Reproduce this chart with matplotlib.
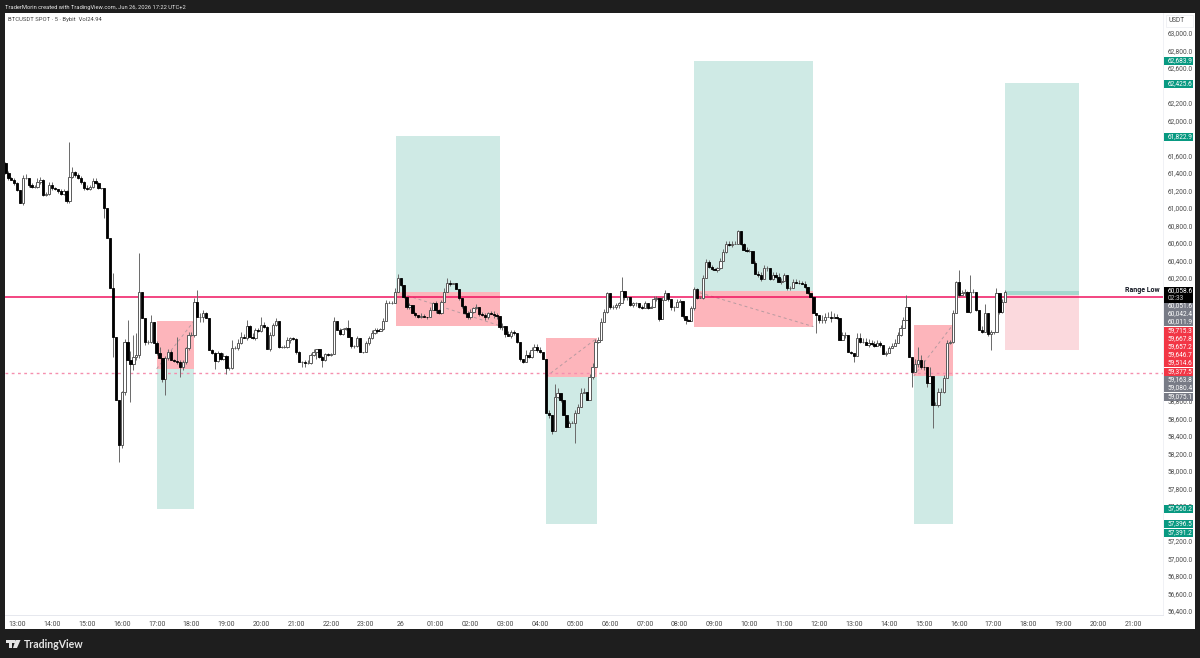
import matplotlib
matplotlib.use("Agg")
import matplotlib.pyplot as plt
from matplotlib.patches import Rectangle, Polygon
import numpy as np

plt.rcParams['font.family'] = ['Roboto', 'DejaVu Sans']

first_open = 61509

closes = [
    61396,61338,61326,61281,61205,61060,61338,61338,61262,61236,61243,61300,
    61319,61148,61159,61262,61224,61213,61197,61159,61193,61083,61357,61414,
    61376,61338,61300,61232,61213,61243,61308,61281,61224,61224,60996,60653,
    60083,59531,58808,58294,58903,59474,59264,59215,59302,59321,60044,59740,
    59474,59474,59702,59455,59341,59283,59044,59283,59359,59264,59257,59245,
    59188,59245,59398,59550,59550,59930,59759,59759,59797,59740,59379,59341,
    59257,59341,59272,59310,59169,59169,59398,59398,59455,59531,59512,59652,
    59531,59512,59607,59599,59664,59645,59386,59550,59664,59710,59417,59417,
    59417,59493,59512,59501,59359,59240,59245,59226,59234,59322,59360,59386,59303,
    59264,59329,59322,59329,59713,59607,59561,59615,59626,59531,59424,59424,
    59512,59360,59360,59455,59512,59576,59607,59599,59615,59710,59911,59911,
    59911,60045,60197,60121,59987,59873,59892,59797,59778,59752,59767,59759,
    59752,59835,59911,59835,59805,59930,60045,60147,60132,60140,60071,59976,
    59881,59805,59759,59816,59854,59873,59790,59778,59752,59797,59790,59778,
    59767,59637,59653,59561,59538,59588,59576,59474,59272,59245,59322,59303,
    59379,59409,59379,59360,59272,58663,58637,58458,58846,58884,58808,58637,
    58504,58542,58542,58656,58732,58884,58903,58808,59074,59188,59474,59493,
    59702,59816,60026,59873,59873,59893,59912,60056,59980,59980,59893,59912,
    59912,59874,59855,59912,59855,59866,59957,59969,59729,59950,60026,59957,
    59866,59866,59931,59942,59767,59721,59714,59855,60072,59969,59969,60197,
    60387,60330,60300,60292,60311,60399,60502,60589,60578,60589,60589,60741,
    60589,60521,60513,60513,60368,60247,60235,60186,60311,60311,60186,60235,
    60216,60159,60170,60235,60083,60083,60159,60148,60140,60132,60102,60026,
    59980,59798,59779,59721,59721,59760,59760,59740,59760,59740,59493,59550,
    59550,59360,59341,59311,59512,59474,59474,59436,59463,59448,59425,59455,
    59436,59333,59341,59398,59425,59463,59550,59626,59721,59866,59303,59131,
    59219,59264,59188,59181,58998,59082,58751,58751,58903,58903,59055,59455,
    59474,59797,60159,60006,60026,60037,59816,60045,60045,59835,59607,59588,
    59797,59561,59588,59588,60026,59816,59930,60045,
]

# wick length above the body
wick_up = [
    20,30,20,15,20,0,40,50,10,20,15,40,
    30,10,20,30,30,15,10,20,20,10,400,60,
    10,20,30,10,30,20,30,30,20,10,0,0,
    0,170,0,0,10,30,247,100,250,250,440,0,
    0,15,76,0,30,70,10,30,30,20,10,274,
    20,20,20,30,30,40,134,40,40,15,0,10,
    20,30,20,40,10,20,90,30,50,50,30,66,
    10,40,20,20,95,30,10,30,20,30,0,10,
    20,30,20,20,10,10,10,20,30,20,30,10,10,
    10,20,20,20,40,0,20,20,20,95,0,10,
    30,10,0,30,30,30,20,20,20,30,40,30,
    30,40,49,0,0,0,20,0,20,0,30,20,
    0,30,20,30,10,20,40,50,30,10,10,0,
    0,10,20,30,20,30,0,20,20,20,30,30,
    20,0,30,0,30,20,20,0,0,10,60,30,
    40,40,40,40,0,0,30,0,150,60,0,0,
    0,30,30,40,30,60,40,0,30,40,30,30,
    40,30,20,0,20,20,20,160,0,10,0,20,
    20,0,20,30,0,20,40,30,0,30,40,0,
    0,20,30,20,0,0,10,30,30,10,30,40,
    30,20,20,20,20,30,30,30,40,30,30,5,
    0,10,30,20,0,30,40,40,40,30,10,30,
    40,40,30,20,0,30,30,30,30,30,30,0,
    0,0,0,0,60,40,50,60,40,30,0,40,
    40,0,10,0,57,60,40,40,40,30,30,40,
    30,0,30,30,30,40,40,40,40,140,0,0,
    60,153,60,80,0,100,0,30,40,40,40,40,
    20,40,10,133,40,40,15,190,30,0,0,50,
    110,0,20,0,57,0,30,20,
]

# wick length below the body
wick_dn = [
    10,20,10,15,10,0,20,10,20,10,10,10,
    20,15,10,10,15,10,20,10,15,20,30,10,
    20,10,20,30,10,10,15,10,10,10,115,0,
    0,230,0,190,30,40,0,426,60,40,30,0,
    40,30,20,0,20,0,25,180,20,0,20,30,
    114,40,30,20,10,20,0,60,60,0,0,10,
    100,20,10,10,60,20,10,10,20,10,0,15,
    0,10,20,10,10,20,0,20,10,10,10,10,
    20,10,30,10,20,0,60,40,10,20,10,80,20,
    76,10,10,10,0,0,10,10,10,0,20,20,
    10,0,20,0,15,10,10,20,0,10,0,0,
    10,0,0,10,10,30,20,0,20,10,10,0,
    15,0,0,30,20,20,0,0,20,0,0,30,
    20,20,20,30,10,10,20,15,30,20,0,30,
    30,20,30,30,0,20,30,10,20,10,0,20,
    20,0,20,20,0,0,30,38,0,10,20,0,
    0,0,0,220,0,0,0,0,0,30,0,20,
    0,0,10,20,30,20,30,0,30,30,10,20,
    30,20,10,0,10,0,0,15,15,0,0,20,
    30,40,0,0,20,40,0,0,20,10,0,10,
    0,10,10,0,20,10,0,10,10,20,0,0,
    10,0,10,10,0,0,20,20,0,30,10,10,
    10,0,30,0,20,20,0,0,10,0,10,10,
    0,0,210,30,30,30,0,40,0,10,0,0,
    30,0,10,65,0,20,10,0,20,10,10,0,
    20,0,20,0,0,0,0,10,0,0,0,171,
    0,30,20,30,40,0,267,0,20,0,10,0,
    10,20,0,20,0,30,0,10,20,10,0,20,
    0,20,182,30,0,30,10,0,
]

range_low = 59985
dashed_level = 59117

# long/short position tools: left bar, right bar, target, entry, stop
pos_left = [52, 134.5, 186, 237, 312.5]
pos_right = [65, 170, 203.5, 278, 326]
pos_target = [57560.2, 61822.9, 57391.2, 62683.9, 57396.5]
pos_entry = [59163.8, 60042.4, 59075.1, 60051.6, 59080.4]
pos_stop = [59715.3, 59657.2, 59514.6, 59646.7, 59667.8]

# the one still open on the right
open_left, open_right = 344, 369.5
open_target, open_entry, open_red_top, open_stop = 62425.6, 60011.9, 60051.6, 59377.5

hour_labels = ["13:00","14:00","15:00","16:00","17:00","18:00","19:00","20:00","21:00","22:00","23:00","26",
               "01:00","02:00","03:00","04:00","05:00","06:00","07:00","08:00","09:00","10:00","11:00","12:00",
               "13:00","14:00","15:00","16:00","17:00","18:00","19:00","20:00","21:00"]
hour_bars = np.arange(4, 4 + 12 * len(hour_labels), 12)

price_ticks = np.arange(56400, 63001, 200)
# these sit fully behind a price tag
covered_ticks = [62400, 61800, 60000, 59800, 59600, 59400, 59200, 59000, 57400]

tag_values = ["62,683.9","62,425.6","61,822.9",
              "60,051.6","60,042.4","60,011.9",
              "59,715.3","59,667.8","59,657.2","59,646.7","59,514.6","59,377.5",
              "59,163.8","59,080.4","59,075.1",
              "57,560.2","57,396.5","57,391.2"]
tag_colors = ["#089981"]*3 + ["#787b86"]*3 + ["#f23645"]*6 + ["#787b86"]*3 + ["#089981"]*3
tag_ys = [61,84,137, 306,314,322, 331,339,347,355,363,372, 380,388,397, 509,524,533]

W, H = 1200, 658
BG = "#1e1e1e"
TEAL = "#cfeae5"
RED = "#fdb5bb"

fig = plt.figure(figsize=(W/100, H/100), dpi=100, facecolor=BG)

def fx(x):
    return x / W

def fy(y):
    return 1 - y / H

fig.patches.append(Rectangle((fx(5), fy(629)), 1190/W, 616/H, transform=fig.transFigure,
                             facecolor="white", edgecolor="none", zorder=-1))

ax = fig.add_axes([fx(5), fy(615), 1158/W, 602/H], facecolor="white")
ax.set_xlim(-0.17, 398.3)
ax.set_ylim(56354, 63227)

c = np.array(closes, dtype=float)
o = np.r_[first_open, c[:-1]]
bars = np.arange(len(c))
hi = np.maximum(o, c) + np.array(wick_up)
lo = np.minimum(o, c) - np.array(wick_dn)

for l, r, t, e, s in zip(pos_left, pos_right, pos_target, pos_entry, pos_stop):
    ax.fill_between([l, r], t, e, color=TEAL, lw=0, zorder=1)
    ax.fill_between([l, r], e, s, color=RED, lw=0, zorder=1)

ax.fill_between([open_left, open_right], open_target, open_entry, color=TEAL, lw=0, zorder=1)
ax.fill_between([open_left, open_right], open_red_top, open_stop, color="#fbd9dd", lw=0, zorder=1)
ax.fill_between([open_left, open_right], open_entry, open_red_top, color="#a5d8ce", lw=0, zorder=1.1)

# dashed trade paths
for l, r, e, s in zip(pos_left, pos_right, pos_entry, pos_stop):
    ax.plot([l, r], [e, s], color="#9a8f95", lw=0.7, ls=(0, (3, 3)), alpha=0.7, zorder=1.5)

ax.axhline(range_low, color="#f0135f", lw=1.1, zorder=2)
ax.axhline(dashed_level, color="#f58fae", lw=1.0, ls=(0, (2, 2.5)), zorder=2)

ax.vlines(bars, lo, hi, color="#6a6a6a", lw=0.7, zorder=3)
up = c >= o
ax.bar(bars[up], (c - o)[up], bottom=o[up], width=0.8, facecolor="white", edgecolor="#5a5a5a", lw=0.7, zorder=4)
ax.bar(bars[~up], (c - o)[~up], bottom=o[~up], width=0.8, facecolor="black", edgecolor="black", lw=0.6, zorder=4)

ax.yaxis.tick_right()
ax.set_yticks(price_ticks)
ax.set_yticklabels(["" if p in covered_ticks else f"{p:,.1f}" for p in price_ticks], fontsize=4.7, color="#4a4a4a")
ax.set_xticks(hour_bars)
ax.set_xticklabels(hour_labels, fontsize=5.0, color="#4a4a4a")
ax.tick_params(axis="both", length=0)
ax.tick_params(axis="y", pad=3.6)
ax.tick_params(axis="x", pad=4.5)
for side in ["top", "left"]:
    ax.spines[side].set_visible(False)
ax.spines["right"].set_color("#f0f1f5")
ax.spines["bottom"].set_color("#e6e8ee")
ax.spines["bottom"].set_linewidth(0.7)
ax.spines["right"].set_linewidth(0.7)

# price tags on the scale
for val, col, y in zip(tag_values, tag_colors, tag_ys):
    fig.patches.append(Rectangle((fx(1164), fy(y + 4.1)), 29/W, 8.2/H, transform=fig.transFigure,
                                 facecolor=col, edgecolor="none", zorder=5))
    fig.text(fx(1179.8), fy(y), val, color="white", fontsize=4.7, ha="center", va="center", zorder=6)

fig.patches.append(Rectangle((fx(1164), fy(303)), 29/W, 16/H, transform=fig.transFigure,
                             facecolor="black", edgecolor="none", zorder=5))
fig.text(fx(1179.8), fy(291), "60,058.6", color="white", fontsize=4.7, ha="center", va="center", zorder=6)
fig.text(fx(1176), fy(298.5), "02:33", color="#d0d0d0", fontsize=4.7, ha="center", va="center", zorder=6)

fig.text(fx(1160), fy(290), "Range Low", color="#131722", fontsize=5.0, fontweight="bold", ha="right", va="center", zorder=6)

fig.patches.append(Rectangle((fx(1166), fy(27)), 27/W, 12/H, transform=fig.transFigure,
                             facecolor="white", edgecolor="#eeeff3", lw=0.6, zorder=5))
fig.text(fx(1177), fy(21), "USDT", color="#4a4a4a", fontsize=4.7, ha="center", va="center", zorder=6)

fig.text(fx(5), fy(7), "TraderMorin created with TradingView.com, Jun 26, 2026 17:22 UTC+2", color="#e8e8e8",
         fontsize=4.15, va="center")
fig.text(fx(8), fy(20), "BTCUSDT SPOT · 5 · Bybit  Vol24.94", color="#444444", fontsize=4.25, va="center")

# logo + wordmark
fig.patches.append(Polygon([[fx(6), fy(640)], [fx(11.5), fy(640)], [fx(11.5), fy(648)], [fx(9), fy(648)],
                            [fx(9), fy(643)], [fx(6), fy(643)]], closed=True, transform=fig.transFigure,
                           facecolor="#e6e6e6", edgecolor="none"))
fig.patches.append(Polygon([[fx(15.5), fy(640)], [fx(20.5), fy(640)], [fx(17), fy(648)], [fx(13), fy(648)]],
                           closed=True, transform=fig.transFigure, facecolor="#e6e6e6", edgecolor="none"))
fig.patches.append(Rectangle((fx(12.2), fy(643)), 2.4/W, 2.8/H, transform=fig.transFigure, facecolor="#e6e6e6", edgecolor="none"))
fig.text(fx(24), fy(644), "TradingView", color="#e6e6e6", fontsize=7.6, family="Lato", fontweight="bold", va="center")

fig.savefig("out.png", dpi=100, facecolor=BG)
